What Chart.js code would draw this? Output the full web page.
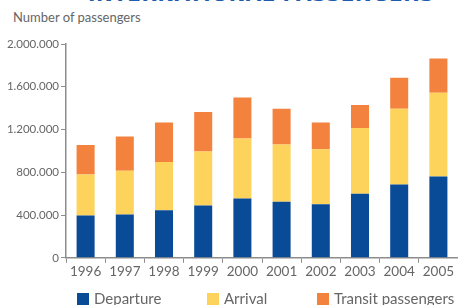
<!DOCTYPE html>
<html>
<head>
<meta charset="utf-8">
<script src="https://cdn.jsdelivr.net/npm/chart.js@4/dist/chart.umd.min.js"></script>
<style>
  html, body { margin: 0; padding: 0; background: #fff; overflow: hidden; }
  #wrap { position: relative; width: 458px; height: 305px; font-family: Lato, sans-serif; }
  #head {
    position: absolute; left: 88px; top: -18px; width: 346px;
    font-family: "DejaVu Sans", sans-serif; font-weight: bold; font-size: 20px;
    color: #1f5cae; white-space: nowrap; letter-spacing: 0.5px; text-align: center;
  }
  #ylabel { position: absolute; left: 13px; top: 9px; font-size: 13px; color: #666; }
  #legend { position: absolute; left: 0; top: 290px; width: 458px; height: 16px; }
  .item { position: absolute; top: 0; font-size: 15px; color: #666; line-height: 16px; white-space: nowrap; }
  .item span { display: inline-block; width: 12px; height: 12px; margin-right: 5px; vertical-align: -1px; }
  canvas { position: absolute; left: 0; top: 0; }
</style>
</head>
<body>
<div id="wrap">
  <div id="head">INTERNATIONAL PASSENGERS</div>
  <div id="ylabel">Number of passengers</div>
  <canvas id="chart" width="458" height="305"></canvas>
  <div id="legend"></div>
</div>
<script>
const years = ['1996', '1997', '1998', '1999', '2000', '2001', '2002', '2003', '2004', '2005'];
const departure = [395000, 405000, 445000, 490000, 555000, 525000, 500000, 600000, 685000, 760000];
const arrival = [385000, 410000, 450000, 505000, 560000, 535000, 515000, 615000, 710000, 785000];
const transit = [275000, 320000, 370000, 370000, 385000, 335000, 250000, 215000, 290000, 320000];
const yTicks = [0, 400000, 800000, 1200000, 1600000, 2000000];

const axisColor = '#8c8c8c';
const textColor = '#666666';

function fmt(v) {
  return v.toString().replace(/\B(?=(\d{3})+(?!\d))/g, '.');
}

const ctx = document.getElementById('chart').getContext('2d');
const chart = new Chart(ctx, {
  type: 'bar',
  data: {
    labels: years,
    datasets: [
      { label: 'Departure', data: departure, backgroundColor: '#0a4b97' },
      { label: 'Arrival', data: arrival, backgroundColor: '#fed35b' },
      { label: 'Transit passengers', data: transit, backgroundColor: '#f4823f' }
    ]
  },
  options: {
    responsive: false,
    animation: false,
    layout: { padding: { left: 0, right: 0, top: 44, bottom: 24 } },
    datasets: { bar: { barPercentage: 0.46, categoryPercentage: 1 } },
    plugins: {
      legend: { display: false },
      tooltip: { enabled: false }
    },
    scales: {
      x: {
        stacked: true,
        border: { color: axisColor, width: 1.5 },
        grid: { drawOnChartArea: false, drawTicks: true, tickLength: 5, color: axisColor, offset: true },
        ticks: { color: textColor, font: { family: 'Lato', size: 13.5 }, padding: 1 }
      },
      y: {
        stacked: true,
        min: 0,
        max: 2000000,
        afterBuildTicks: (scale) => { scale.ticks = yTicks.map(v => ({ value: v })); },
        afterFit: (scale) => { scale.width = 66; },
        border: { color: axisColor, width: 1.5 },
        grid: { drawOnChartArea: false, drawTicks: true, tickLength: 5, color: axisColor },
        ticks: { color: textColor, font: { family: 'Lato', size: 11.5 }, padding: 2, callback: (v) => fmt(v) }
      }
    }
  }
});

// legend built from the chart's datasets
const legendLefts = [77, 207, 317];
const legend = document.getElementById('legend');
chart.data.datasets.forEach((ds, i) => {
  const el = document.createElement('div');
  el.className = 'item';
  el.style.left = legendLefts[i] + 'px';
  el.innerHTML = '<span style="background:' + ds.backgroundColor + '"></span>' + ds.label;
  legend.appendChild(el);
});
</script>
</body>
</html>
